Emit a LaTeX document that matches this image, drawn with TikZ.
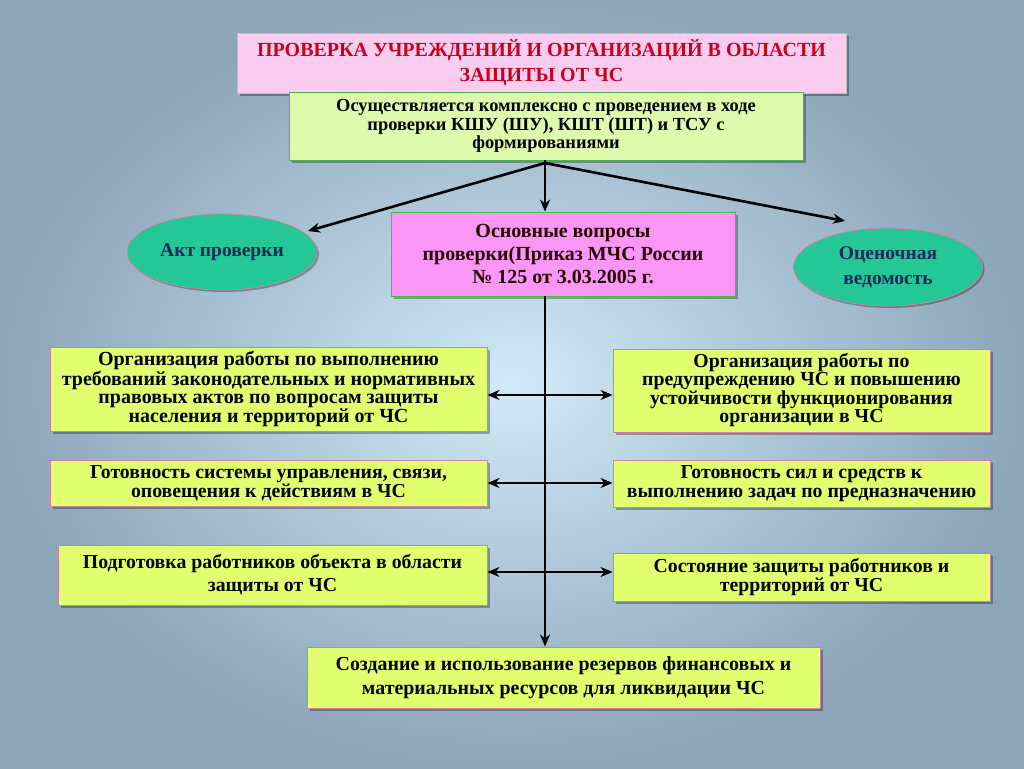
\documentclass[tikz,border=0pt]{standalone}
\usepackage{fontspec}
\setmainfont{Liberation Serif}
\usetikzlibrary{arrows.meta,shadows,shapes.geometric}
\definecolor{bgin}{RGB}{208,234,247}
\definecolor{bgout}{RGB}{140,165,185}
\definecolor{titlepink}{RGB}{250,205,240}
\definecolor{titlered}{RGB}{200,0,30}
\definecolor{palegreen}{RGB}{222,250,172}
\definecolor{midpink}{RGB}{250,150,245}
\definecolor{teal}{RGB}{35,200,150}
\definecolor{navy}{RGB}{20,40,90}
\definecolor{yel}{RGB}{225,255,110}
\definecolor{pinkedge}{RGB}{210,130,160}
\tikzset{
  box/.style={rectangle, inner sep=0pt, align=center, font=\bfseries,
    drop shadow={shadow xshift=3pt, shadow yshift=-3pt, fill=black, opacity=0.3}},
  titlebox/.style={box, fill=titlepink, draw=gray!50, line width=0.6pt, text=titlered},
  greenbox/.style={box, fill=palegreen, draw=green!40!gray, line width=0.6pt},
  pinkbox/.style={box, fill=midpink, draw=green!50!gray, line width=0.8pt, text=black!85!red},
  yelbox/.style={box, fill=yel, draw=pinkedge, line width=1pt},
  oval/.style={ellipse, inner sep=0pt, align=center, fill=teal, draw=pinkedge, line width=0.8pt,
    text=navy, font=\bfseries,
    drop shadow={shadow xshift=2pt, shadow yshift=-2pt, fill=black, opacity=0.3}},
  conn/.style={line width=2.6pt, draw=black},
  arr/.style={conn, -{Stealth[length=12pt,width=10pt]}},
  dbl/.style={conn, {Stealth[length=12pt,width=10pt]}-{Stealth[length=12pt,width=10pt]}}
}
\begin{document}
\begin{tikzpicture}[x=1pt,y=-1pt]
\useasboundingbox (0,0) rectangle (1024,768);
\shade[inner color=bgin, outer color=bgout] (0,0) rectangle (1024,768);

\node[titlebox, minimum width=609, minimum height=60,
  font=\bfseries\fontsize{20}{25}\selectfont] (title) at (541.5,63)
  {ПРОВЕРКА УЧРЕЖДЕНИЙ И ОРГАНИЗАЦИЙ В ОБЛАСТИ\\ЗАЩИТЫ ОТ ЧС};

\node[greenbox, minimum width=514, minimum height=68,
  font=\bfseries\fontsize{18.4}{18.5}\selectfont] (top) at (546,126)
  {Осуществляется комплексно с проведением в ходе\\проверки КШУ (ШУ), КШТ (ШТ) и ТСУ с\\формированиями};

\node[pinkbox, minimum width=344, minimum height=84,
  font=\bfseries\fontsize{20}{23}\selectfont] (main) at (563,254)
  {Основные вопросы\\проверки(Приказ МЧС России\\№ 125 от 3.03.2005 г.};

\node[oval, minimum width=190, minimum height=76,
  font=\bfseries\fontsize{19.5}{25}\selectfont] (akt) at (222,252) {Акт проверки};
\node[oval, minimum width=189, minimum height=78,
  font=\bfseries\fontsize{19.5}{25}\selectfont] (ved) at (888,267) {Оценочная\\ведомость};

\node[yelbox, minimum width=437, minimum height=84,
  font=\bfseries\fontsize{20}{18.5}\selectfont] (l1) at (268.5,389)
  {Организация работы по выполнению\\требований законодательных и нормативных\\правовых актов по вопросам защиты\\населения и территорий от ЧС};
\node[yelbox, minimum width=377, minimum height=83,
  font=\bfseries\fontsize{19.8}{18}\selectfont] (r1) at (801.5,390.5)
  {Организация работы по\\предупреждению ЧС и повышению\\устойчивости функционирования\\организации в ЧС};

\node[yelbox, minimum width=437, minimum height=46,
  font=\bfseries\fontsize{19.8}{17.5}\selectfont] (l2) at (268.5,483)
  {Готовность системы управления, связи,\\оповещения к действиям в ЧС};
\node[yelbox, minimum width=377, minimum height=47,
  font=\bfseries\fontsize{19.8}{19.5}\selectfont] (r2) at (801.5,483.5)
  {Готовность сил и средств к\\выполнению задач по предназначению};

\node[yelbox, minimum width=429, minimum height=60,
  font=\bfseries\fontsize{19.8}{23}\selectfont] (l3) at (272.5,575)
  {Подготовка работников объекта в области\\защиты от ЧС};
\node[yelbox, minimum width=377, minimum height=48,
  font=\bfseries\fontsize{19.8}{18.5}\selectfont] (r3) at (801.5,577)
  {Состояние защиты работников и\\территорий от ЧС};

\node[yelbox, minimum width=513, minimum height=61,
  font=\bfseries\fontsize{19.9}{24}\selectfont] (bot) at (563.5,677.5)
  {Создание и использование резервов финансовых и\\материальных ресурсов для ликвидации ЧС};

\coordinate (split) at (545,163);
\coordinate (aktend) at (308,231);
\coordinate (vedend) at (845,221);
\draw[arr] (split) -- (main.north -| split);
\draw[arr] (split) -- (aktend);
\draw[arr] (split) -- (vedend);
\draw[conn] (top.south -| split) -- (split);
\draw[arr] (main.south -| split) -- (bot.north -| split);
\draw[dbl] ([yshift=-6pt]l1.east) -- ([yshift=-6pt]l1.east -| r1.west);
\draw[dbl] (l2.east) -- (l2.east -| r2.west);
\draw[dbl] ([yshift=3pt]l3.east) -- ([yshift=3pt]l3.east -| r3.west);
\end{tikzpicture}
\end{document}
